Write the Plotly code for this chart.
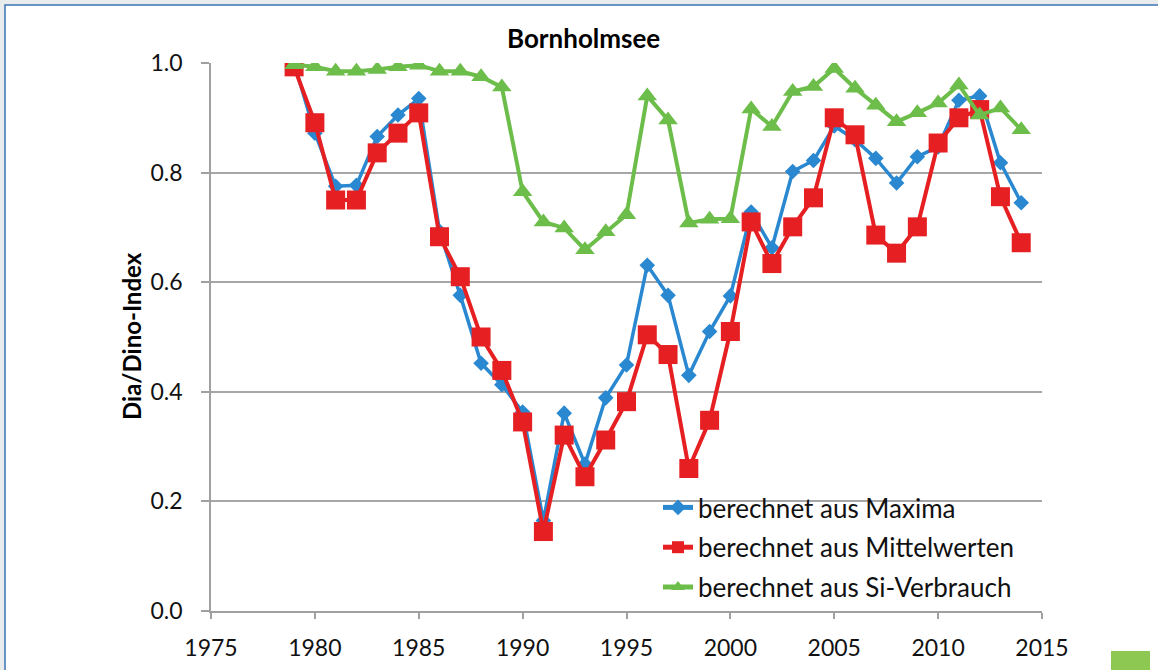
import plotly.graph_objects as go

# Jahre der Messreihe
years = list(range(1979, 2015))

# Dia/Dino-Index, berechnet aus Maxima
maxima = [1.000, 0.872, 0.775, 0.777, 0.866, 0.905, 0.935, 0.693, 0.576, 0.452,
          0.413, 0.363, 0.165, 0.361, 0.268, 0.389, 0.449, 0.631, 0.576, 0.430,
          0.510, 0.575, 0.728, 0.663, 0.802, 0.822, 0.885, 0.860, 0.826, 0.781,
          0.829, 0.847, 0.932, 0.940, 0.818, 0.745]

# Dia/Dino-Index, berechnet aus Mittelwerten
mittelwerte = [0.993, 0.891, 0.750, 0.750, 0.836, 0.872, 0.909, 0.683, 0.610, 0.500,
               0.439, 0.345, 0.145, 0.321, 0.245, 0.312, 0.382, 0.504, 0.468, 0.260,
               0.348, 0.510, 0.710, 0.634, 0.701, 0.754, 0.900, 0.869, 0.686, 0.653,
               0.701, 0.854, 0.900, 0.915, 0.756, 0.672]

# Dia/Dino-Index, berechnet aus Si-Verbrauch
si_verbrauch = [0.997, 0.993, 0.985, 0.985, 0.988, 0.993, 0.996, 0.985, 0.985, 0.975,
                0.956, 0.765, 0.710, 0.699, 0.659, 0.692, 0.723, 0.940, 0.896, 0.708,
                0.715, 0.716, 0.916, 0.884, 0.948, 0.957, 0.990, 0.954, 0.923, 0.893,
                0.909, 0.927, 0.960, 0.905, 0.918, 0.878]

series_names = ["berechnet aus Maxima", "berechnet aus Mittelwerten",
                "berechnet aus Si-Verbrauch"]

x_ticks = [1975, 1980, 1985, 1990, 1995, 2000, 2005, 2010, 2015]
y_ticks = [0.0, 0.2, 0.4, 0.6, 0.8, 1.0]

FONT = "Lato"
W, H = 1158, 670
ML, MR, MT, MB = 211, 116, 63, 59
PW, PH = W - ML - MR, H - MT - MB


def px_x(p):
    return (p - ML) / PW


def px_y(p):
    return (H - MB - p) / PH


fig = go.Figure()

styles = [
    (maxima, "#2a88d0", "diamond", 12, 3.5),
    (mittelwerte, "#e51f22", "square", 19, 4),
    (si_verbrauch, "#6dbd4b", "triangle-up", 17, 4),
]
for name, (vals, color, sym, size, lw) in zip(series_names, styles):
    fig.add_trace(go.Scatter(
        x=years, y=vals, mode="lines+markers", name=name, legendgroup=name,
        line=dict(color=color, width=lw),
        marker=dict(symbol=sym, size=size, color=color, line=dict(width=0)),
    ))

shapes = [
    # white panel with thin blue frame
    dict(type="rect", xref="paper", yref="paper",
         x0=px_x(5), x1=px_x(W + 5), y0=px_y(H + 5), y1=px_y(5),
         fillcolor="white", line=dict(color="#3a73b5", width=1.5), layer="below"),
    # small green box in the lower right corner
    dict(type="rect", xref="paper", yref="paper",
         x0=px_x(1111), x1=px_x(1150), y0=px_y(H + 5), y1=px_y(651),
         fillcolor="#8dc853", line=dict(width=0), layer="below"),
    # legend background hiding the grid behind it
    dict(type="rect", xref="paper", yref="paper",
         x0=px_x(602), x1=1.0, y0=px_y(600), y1=px_y(482),
         fillcolor="white", line=dict(width=0), layer="between"),
]

fig.update_layout(
    width=W, height=H,
    margin=dict(l=ML, r=MR, t=MT, b=MB, autoexpand=False),
    paper_bgcolor="#e8ecec",
    plot_bgcolor="rgba(0,0,0,0)",
    font=dict(family=FONT, color="#111111"),
    title=dict(text="<b>Bornholmsee</b>", xref="container", x=0.504, xanchor="center",
               yref="container", y=1 - 39 / H, yanchor="middle",
               font=dict(family=FONT, size=26, color="#000000")),
    showlegend=True,
    legend=dict(x=px_x(658), y=px_y(484), xanchor="left", yanchor="top",
                bgcolor="rgba(255,255,255,0)", borderwidth=0,
                font=dict(family=FONT, size=26, color="#111111"),
                itemsizing="constant", tracegroupgap=3, traceorder="grouped"),
    shapes=shapes,
    annotations=[dict(text="<b>Dia/Dino-Index</b>", textangle=-90,
                      xref="paper", yref="paper", x=px_x(131), y=px_y(336),
                      xanchor="center", yanchor="middle", showarrow=False,
                      font=dict(family=FONT, size=24, color="#000000"))],
)

fig.update_xaxes(range=[1975, 2015], tickvals=x_ticks, ticktext=[str(v) for v in x_ticks],
                 automargin=False,
                 showgrid=False, zeroline=False, showline=True, linecolor="#a0a0a0",
                 linewidth=1.5, ticks="outside", ticklen=6, tickcolor="#a0a0a0",
                 tickwidth=1.5, ticklabelstandoff=10,
                 tickfont=dict(family=FONT, size=23, color="#111111"))
fig.update_yaxes(range=[0, 1.0], tickvals=y_ticks, ticktext=[f"{v:.1f}" for v in y_ticks],
                 automargin=False,
                 showgrid=True, gridcolor="#a6a6a6", gridwidth=1.5, zeroline=False,
                 showline=True, linecolor="#a0a0a0", linewidth=1.5,
                 ticks="outside", ticklen=8, tickcolor="#a0a0a0", tickwidth=1.5,
                 ticklabelstandoff=14,
                 tickfont=dict(family=FONT, size=23, color="#111111"))

fig.write_html("out.html")
